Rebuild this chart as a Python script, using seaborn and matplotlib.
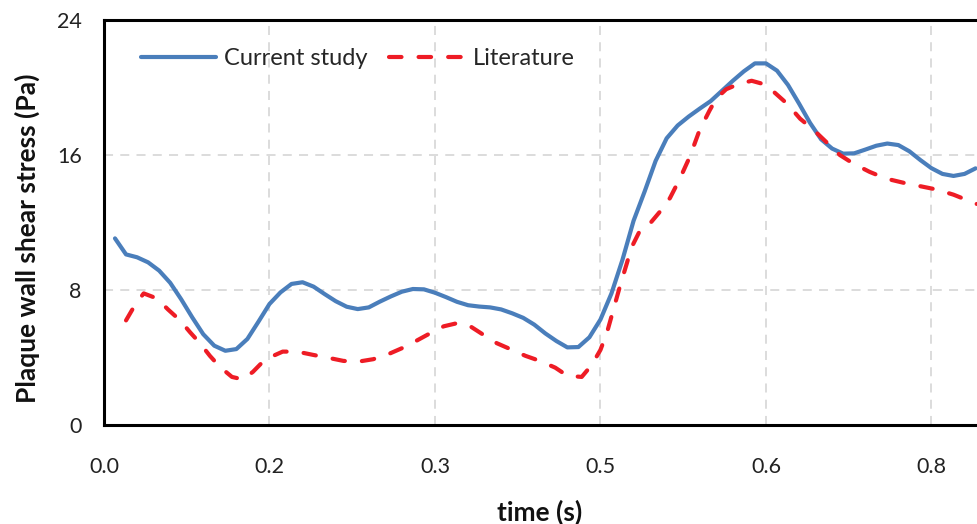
import numpy as np
import pandas as pd
import matplotlib
matplotlib.use("Agg")
import matplotlib.pyplot as plt
from matplotlib.ticker import MultipleLocator
import seaborn as sns

# ---- data ----
current_time = [0.01, 0.02, 0.03, 0.04, 0.05, 0.06, 0.07, 0.08, 0.09, 0.10,
                0.11, 0.12, 0.13, 0.14, 0.15, 0.16, 0.17, 0.18, 0.19, 0.20,
                0.21, 0.22, 0.23, 0.24, 0.25, 0.26, 0.27, 0.28, 0.29, 0.30,
                0.31, 0.32, 0.33, 0.34, 0.35, 0.36, 0.37, 0.38, 0.39, 0.40,
                0.41, 0.42, 0.43, 0.44, 0.45, 0.46, 0.47, 0.48, 0.49, 0.50,
                0.51, 0.52, 0.53, 0.54, 0.55, 0.56, 0.57, 0.58, 0.59, 0.60,
                0.61, 0.62, 0.63, 0.64, 0.65, 0.66, 0.67, 0.68, 0.69, 0.70,
                0.71, 0.72, 0.73, 0.74, 0.75, 0.76, 0.77, 0.78, 0.79]
current_wss = [11.06, 10.11, 9.94, 9.64, 9.15, 8.43, 7.45, 6.38, 5.38, 4.70,
               4.40, 4.50, 5.10, 6.12, 7.17, 7.86, 8.36, 8.46, 8.20, 7.76,
               7.34, 7.01, 6.87, 6.97, 7.31, 7.62, 7.90, 8.06, 8.04, 7.84,
               7.58, 7.30, 7.10, 7.02, 6.97, 6.85, 6.62, 6.35, 5.95, 5.43,
               4.98, 4.60, 4.62, 5.20, 6.25, 7.80, 9.80, 12.10, 13.83, 15.65,
               16.99, 17.75, 18.28, 18.75, 19.20, 19.80, 20.40, 20.96, 21.43, 21.43,
               21.00, 20.15, 19.05, 17.90, 16.93, 16.38, 16.08, 16.10, 16.32, 16.55,
               16.68, 16.59, 16.22, 15.70, 15.22, 14.88, 14.76, 14.88, 15.21]

literature_time = [0.020, 0.028, 0.036, 0.048, 0.058, 0.069, 0.078, 0.087, 0.096, 0.105,
                   0.116, 0.126, 0.135, 0.144, 0.150, 0.162, 0.175, 0.190, 0.202, 0.217,
                   0.230, 0.244, 0.256, 0.270, 0.282, 0.296, 0.308, 0.321, 0.332, 0.345,
                   0.356, 0.370, 0.382, 0.395, 0.409, 0.420, 0.433, 0.442, 0.450, 0.456,
                   0.462, 0.468, 0.474, 0.478, 0.486, 0.495, 0.504, 0.513, 0.522, 0.531,
                   0.540, 0.549, 0.555, 0.564, 0.575, 0.587, 0.598, 0.607, 0.619, 0.631,
                   0.643, 0.655, 0.667, 0.679, 0.694, 0.709, 0.725, 0.740, 0.755, 0.770,
                   0.791]
literature_wss = [6.20, 7.10, 7.80, 7.50, 6.85, 6.20, 5.50, 4.85, 4.10, 3.45,
                  2.85, 2.70, 3.15, 3.75, 4.00, 4.35, 4.35, 4.15, 4.00, 3.80,
                  3.75, 3.90, 4.15, 4.55, 4.95, 5.45, 5.85, 6.05, 5.85, 5.30,
                  4.85, 4.45, 4.10, 3.80, 3.40, 2.92, 2.85, 3.55, 4.45, 5.50,
                  6.90, 8.30, 9.60, 10.50, 11.55, 11.95, 12.65, 13.45, 14.60, 15.90,
                  17.50, 18.65, 19.35, 19.90, 20.20, 20.40, 20.20, 19.75, 19.05, 18.15,
                  17.50, 16.75, 16.00, 15.50, 15.00, 14.60, 14.35, 14.15, 13.95, 13.65,
                  13.10]

# x ticks every 0.15 s, labelled the way the original (Excel, half-up) shows them
xtick_values = [0.0, 0.15, 0.30, 0.45, 0.60, 0.75]
xtick_labels = ['0.0', '0.2', '0.3', '0.5', '0.6', '0.8']
ytick_values = [0, 8, 16, 24]

current_df = pd.DataFrame({'time': current_time, 'wss': current_wss})
literature_df = pd.DataFrame({'time': literature_time, 'wss': literature_wss})

# ---- style ----
sns.set_style("white")
plt.rcParams['font.family'] = ['Lato', 'DejaVu Sans']

fig = plt.figure(figsize=(9.78, 5.24), dpi=100)
ax = fig.add_axes([0.1063, 0.1889, 0.8937, 0.7729])

sns.lineplot(data=current_df, x='time', y='wss', ax=ax,
             color='#4A7EBB', linewidth=3, label='Current study',
             solid_capstyle='round')
sns.lineplot(data=literature_df, x='time', y='wss', ax=ax,
             color='#EE1C25', linewidth=3, linestyle=(0, (3.0, 4.1)),
             dash_capstyle='round', label='Literature')

ax.set_xlim(0, 0.7922)
ax.set_ylim(0, 24)

ax.set_xticks(xtick_values, labels=xtick_labels)
ax.xaxis.set_minor_locator(MultipleLocator(0.03))
ax.set_yticks(ytick_values)
ax.yaxis.set_minor_locator(MultipleLocator(1.6))

ax.grid(True, which='major', color='#D9D9D9', linestyle=(0, (5, 4)), linewidth=1.3)
ax.set_axisbelow(True)

for side in ['left', 'bottom', 'top']:
    ax.spines[side].set_color('black')
    ax.spines[side].set_linewidth(2.2)
ax.spines['right'].set_visible(False)

ax.tick_params(which='both', direction='in', color='black', width=1.5,
               labelsize=15.5, labelcolor='#222222')
ax.tick_params(which='major', length=5.5)
ax.tick_params(which='minor', length=4.5)
ax.tick_params(axis='x', which='major', pad=23)
ax.tick_params(axis='y', which='major', pad=16)
ax.tick_params(axis='both', which='both', top=False, right=False)

ax.set_xlabel('time (s)', fontsize=19, fontweight='bold', color='#111111', va='center')
ax.xaxis.set_label_coords(0.498, -0.215)
ax.set_ylabel('Plaque wall shear stress (Pa)', fontsize=19, fontweight='bold',
              color='#111111', va='center')
ax.yaxis.set_label_coords(-0.088, 0.462)

ax.legend(loc='upper left', bbox_to_anchor=(0.042, 0.93), ncol=2, frameon=False,
          fontsize=17, handlelength=3.2, handletextpad=0.35, columnspacing=0.9,
          borderpad=0, borderaxespad=0)

fig.savefig('out.png', dpi=100)
